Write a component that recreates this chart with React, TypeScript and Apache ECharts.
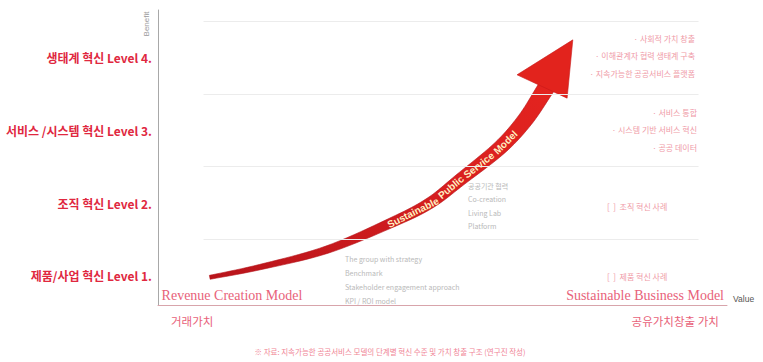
import React, { useEffect, useRef } from "react";
import * as echarts from "echarts";

// ---- data ----
const levelValues = [1, 2, 3, 4];
const levelLabels = [
  "제품/사업 혁신 Level 1.",
  "조직 혁신 Level 2.",
  "서비스 /시스템 혁신 Level 3.",
  "생태계 혁신 Level 4.",
];
const levelBoundaries = [1.5, 2.5, 3.5, 4.5];
const modelTickValues = [13, 85.6];
const modelLabels = ["Revenue Creation Model", "Sustainable Business Model"];
const valueTickValues = [6, 90.9];
const valueLabels = ["거래가치", "공유가치창출 가치"];
const arrowX = [9.1, 17.9, 29.7, 41.3, 47.8, 53.1, 60.1, 64.5, 67.7];
const arrowY = [0.98, 1.12, 1.36, 1.74, 2.0, 2.32, 2.76, 3.14, 3.52];
const headX = [63.1, 72.9, 71.9];
const headY = [3.76, 4.24, 3.44];
const arrowLabel = "Sustainable Public Service Model";
const level4Notes = ["· 사회적 가치 창출", "· 이해관계자 협력 생태계 구축", "· 지속가능한 공공서비스 플랫폼"];
const level3Notes = ["· 서비스 통합", "· 시스템 기반 서비스 혁신", "· 공공 데이터"];
const level2Note = "[  ]  조직 혁신 사례";
const level1Note = "[  ]  제품 혁신 사례";
const midNotes = ["공공기관 협력", "Co-creation", "Living Lab", "Platform"];
const lowNotes = ["The group with strategy", "Benchmark", "Stakeholder engagement approach", "KPI / ROI model"];
const footNote = "※ 자료: 지속가능한 공공서비스 모델의 단계별 혁신 수준 및 가치 창출 구조 (연구진 작성)";

const KR = '"Noto Sans CJK KR", "Noto Sans", sans-serif';

function measure(text: string, font: string): number {
  const c = document.createElement("canvas").getContext("2d");
  if (!c) return text.length * 5.5;
  c.font = font;
  return c.measureText(text).width;
}

function renderArrow(params: any, api: any) {
  if (params.dataIndex !== 0) return null;
  const pts = arrowX.map((x, i) => api.coord([x, arrowY[i]]) as number[]);
  const sm: number[][] = [];
  for (let i = 0; i < pts.length - 1; i++) {
    const p0 = pts[Math.max(i - 1, 0)], p1 = pts[i], p2 = pts[i + 1], p3 = pts[Math.min(i + 2, pts.length - 1)];
    for (let k = 0; k < 10; k++) {
      const t = k / 10, t2 = t * t, t3 = t2 * t;
      const f = (a: number, b: number, c: number, d: number) =>
        0.5 * (2 * b + (-a + c) * t + (2 * a - 5 * b + 4 * c - d) * t2 + (-a + 3 * b - 3 * c + d) * t3);
      sm.push([f(p0[0], p1[0], p2[0], p3[0]), f(p0[1], p1[1], p2[1], p3[1])]);
    }
  }
  const last = pts[pts.length - 1];
  const prev = sm[sm.length - 1];
  sm.push(last);
  const dx0 = last[0] - prev[0], dy0 = last[1] - prev[1];
  const dl = Math.hypot(dx0, dy0) || 1;
  sm.push([last[0] + (dx0 / dl) * 9, last[1] + (dy0 / dl) * 9]);
  const cum = [0];
  for (let i = 1; i < sm.length; i++) cum.push(cum[i - 1] + Math.hypot(sm[i][0] - sm[i - 1][0], sm[i][1] - sm[i - 1][1]));
  const total = cum[cum.length - 1];
  const left: number[][] = [], right: number[][] = [];
  for (let i = 0; i < sm.length; i++) {
    const a = sm[Math.max(i - 1, 0)], b = sm[Math.min(i + 1, sm.length - 1)];
    const tx = b[0] - a[0], ty = b[1] - a[1];
    const tl = Math.hypot(tx, ty) || 1;
    const nx = -ty / tl, ny = tx / tl;
    const w = (4 + 13 * Math.pow(cum[i] / total, 1.1)) / 2;
    left.push([sm[i][0] + nx * w, sm[i][1] + ny * w]);
    right.push([sm[i][0] - nx * w, sm[i][1] - ny * w]);
  }
  const shaft = left.concat(right.reverse());
  const head = headX.map((x, i) => api.coord([x, headY[i]]));

  const pointAt = (s: number) => {
    let i = 1;
    while (i < cum.length - 1 && cum[i] < s) i++;
    const r = (s - cum[i - 1]) / (cum[i] - cum[i - 1] || 1);
    const x = sm[i - 1][0] + (sm[i][0] - sm[i - 1][0]) * r;
    const y = sm[i - 1][1] + (sm[i][1] - sm[i - 1][1]) * r;
    const ang = Math.atan2(-(sm[i][1] - sm[i - 1][1]), sm[i][0] - sm[i - 1][0]);
    return { x, y, ang };
  };
  const font = 'bold 10px "Liberation Sans", Arial, sans-serif';
  let s0 = 0;
  for (let i = 0; i < sm.length; i++) if (sm[i][0] < 389) s0 = cum[i];
  const space = measure(" ", font);
  const words = arrowLabel.split(" ");
  const texts: any[] = [];
  let s = s0;
  words.forEach((wd) => {
    const w = measure(wd, font);
    const p = pointAt(s + w / 2);
    texts.push({
      type: "text",
      x: p.x,
      y: p.y,
      rotation: p.ang,
      style: { text: wd, fill: "#fff0c2", font, align: "center", verticalAlign: "middle" },
    });
    s += w + space;
  });

  return {
    type: "group",
    children: [
      {
        type: "polygon",
        shape: { points: shaft },
        style: {
          fill: new echarts.graphic.LinearGradient(0, 1, 1, 0, [
            { offset: 0, color: "#b8141b" },
            { offset: 0.6, color: "#d91f1f" },
            { offset: 1, color: "#e4241f" },
          ]),
          stroke: "#b3131a",
          lineWidth: 0.6,
        },
      },
      { type: "polygon", shape: { points: head }, style: { fill: "#e2231d", stroke: "#c81a1a", lineWidth: 0.6 } },
      ...texts,
    ],
  };
}

function buildOption(): any {
  const noteColor = "#ef9aa7";
  const greyColor = "#b9b9b9";
  const graphic: any[] = [
    {
      type: "text",
      x: 146,
      y: 24,
      rotation: Math.PI / 2,
      style: { text: "Benefit", fill: "#9a9a9a", font: '8px "Liberation Sans", Arial', align: "center", verticalAlign: "middle" },
    },
    ...level4Notes.map((t, i) => ({
      type: "text",
      x: 695,
      y: 38 + i * 17.5,
      style: { text: t, fill: noteColor, font: `8px ${KR}`, align: "right", verticalAlign: "middle" },
    })),
    ...level3Notes.map((t, i) => ({
      type: "text",
      x: 697,
      y: 112 + i * 17.5,
      style: { text: t, fill: noteColor, font: `8px ${KR}`, align: "right", verticalAlign: "middle" },
    })),
    {
      type: "text",
      x: 607,
      y: 206,
      style: { text: level2Note, fill: noteColor, font: `8px ${KR}`, align: "left", verticalAlign: "middle" },
    },
    {
      type: "text",
      x: 607,
      y: 276,
      style: { text: level1Note, fill: noteColor, font: `8px ${KR}`, align: "left", verticalAlign: "middle" },
    },
    ...midNotes.map((t, i) => ({
      type: "text",
      x: 468,
      y: 186 + i * 13.3,
      style: { text: t, fill: greyColor, font: `7px ${KR}`, align: "left", verticalAlign: "middle" },
    })),
    ...lowNotes.map((t, i) => ({
      type: "text",
      x: 345,
      y: 259 + i * 14,
      style: { text: t, fill: greyColor, font: `7px ${KR}`, align: "left", verticalAlign: "middle" },
    })),
    {
      type: "text",
      x: 390,
      y: 351,
      style: { text: footNote, fill: "#f08596", font: `7.5px ${KR}`, align: "center", verticalAlign: "middle" },
    },
  ];

  return {
    animation: false,
    backgroundColor: "#ffffff",
    textStyle: { fontFamily: KR },
    grid: { left: 158, right: 36, top: 10, bottom: 57, containLabel: false },
    xAxis: [
      {
        type: "value",
        min: 0,
        max: 100,
        name: "Value",
        nameLocation: "end",
        nameGap: 6,
        nameTextStyle: { color: "#555", fontSize: 8.5, fontFamily: '"Liberation Sans", Arial', verticalAlign: "bottom", padding: [0, 0, 2, 0] },
        axisLine: { show: true, lineStyle: { color: "#d8a4ab", width: 1 } },
        axisTick: { show: false },
        splitLine: { show: false },
        axisLabel: {
          inside: true,
          margin: 3,
          customValues: modelTickValues,
          formatter: (v: number) => modelLabels[modelTickValues.indexOf(v)] ?? "",
          color: "#e8627a",
          fontSize: 14,
          fontFamily: '"Liberation Serif", "DejaVu Serif", serif',
        },
      },
      {
        type: "value",
        min: 0,
        max: 100,
        position: "bottom",
        axisLine: { show: false },
        axisTick: { show: false },
        splitLine: { show: false },
        axisLabel: {
          margin: 10,
          customValues: valueTickValues,
          formatter: (v: number) => valueLabels[valueTickValues.indexOf(v)] ?? "",
          color: "#e8627a",
          fontSize: 11.5,
          fontFamily: KR,
        },
      },
    ],
    yAxis: {
      type: "value",
      min: 0.6,
      max: 4.65,
      axisLine: { show: true, lineStyle: { color: "#a8a8a8", width: 1 } },
      axisTick: { show: false },
      splitLine: { show: false },
      axisLabel: {
        customValues: levelValues,
        margin: 6,
        formatter: (v: number) => levelLabels[levelValues.indexOf(v)] ?? "",
        color: "#e0283f",
        fontSize: 12,
        fontWeight: "bold",
        fontFamily: KR,
      },
    },
    graphic,
    series: [
      {
        type: "line",
        data: [],
        silent: true,
        markLine: {
          silent: true,
          symbol: "none",
          label: { show: false },
          lineStyle: { color: "#ececec", width: 1, type: "solid" },
          data: levelBoundaries.map((b) => [{ coord: [8, b] }, { coord: [95, b] }]),
        },
      },
      {
        type: "custom",
        coordinateSystem: "cartesian2d",
        silent: true,
        clip: false,
        data: arrowX.map((x, i) => [x, arrowY[i]]),
        renderItem: renderArrow,
      },
    ],
  };
}

export default function App() {
  const ref = useRef<HTMLDivElement>(null);
  useEffect(() => {
    if (!ref.current) return;
    const chart = echarts.init(ref.current, undefined, { renderer: "svg" });
    chart.setOption(buildOption());
    return () => chart.dispose();
  }, []);
  return <div ref={ref} style={{ position: "fixed", left: 0, top: 0, width: 763, height: 362 }} />;
}
